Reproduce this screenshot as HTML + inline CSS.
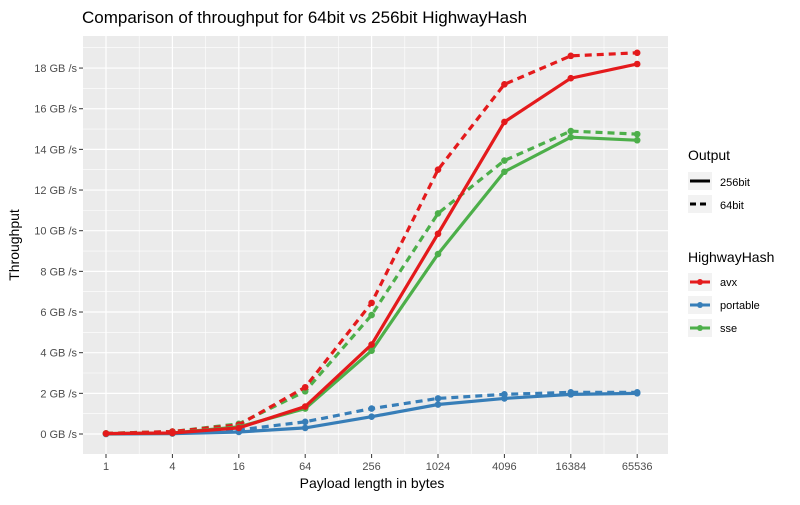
<!DOCTYPE html>
<html><head><meta charset="utf-8"><style>
body{margin:0;background:#fff;font-family:"Liberation Sans",sans-serif}
</style></head><body>
<svg id="chart" width="800" height="500" xmlns="http://www.w3.org/2000/svg" font-family="Liberation Sans, sans-serif">
<text x="82" y="23" font-size="17" fill="#000">Comparison of throughput for 64bit vs 256bit HighwayHash</text>
<rect x="83" y="36" width="585" height="418" fill="#ebebeb"/>
<g id="grid"></g><g id="axes"></g><g id="series"></g>
<text x="372" y="488" font-size="14" text-anchor="middle">Payload length in bytes</text>
<text transform="translate(19,245) rotate(-90)" font-size="14" text-anchor="middle">Throughput</text>
<g>
<text x="688" y="160" font-size="14">Output</text>
<rect x="688" y="172" width="24" height="18" fill="#f2f2f2"/>
<line x1="690" y1="181" x2="710" y2="181" stroke="#000" stroke-width="3"/>
<text x="720" y="186" font-size="11">256bit</text>
<rect x="688" y="195" width="24" height="18" fill="#f2f2f2"/>
<line x1="690" y1="204" x2="710" y2="204" stroke="#000" stroke-width="3" stroke-dasharray="6,4"/>
<text x="720" y="209" font-size="11">64bit</text>
</g>
<g>
<text x="688" y="262" font-size="14">HighwayHash</text>
<rect x="688" y="273" width="24" height="18" fill="#f2f2f2"/>
<line x1="690" y1="282" x2="710" y2="282" stroke="#e41a1c" stroke-width="3"/><circle cx="700" cy="282" r="3" fill="#e41a1c"/>
<text x="720" y="286" font-size="11">avx</text>
<rect x="688" y="296" width="24" height="18" fill="#f2f2f2"/>
<line x1="690" y1="305" x2="710" y2="305" stroke="#377eb8" stroke-width="3"/><circle cx="700" cy="305" r="3" fill="#377eb8"/>
<text x="720" y="309" font-size="11">portable</text>
<rect x="688" y="319" width="24" height="18" fill="#f2f2f2"/>
<line x1="690" y1="328" x2="710" y2="328" stroke="#4daf4a" stroke-width="3"/><circle cx="700" cy="328" r="3" fill="#4daf4a"/>
<text x="720" y="332" font-size="11">sse</text>
</g>
</svg>
<script>
const categories=["1","4","16","64","256","1024","4096","16384","65536"];
const yTicks=[0,2,4,6,8,10,12,14,16,18];
const avx256=[0.02,0.05,0.3,1.35,4.4,9.85,15.35,17.5,18.2];
const avx64=[0.03,0.12,0.45,2.3,6.45,13.0,17.2,18.6,18.75];
const sse256=[0.02,0.05,0.35,1.25,4.1,8.85,12.9,14.6,14.45];
const sse64=[0.03,0.12,0.5,2.1,5.85,10.85,13.45,14.9,14.75];
const portable256=[0,0.02,0.1,0.3,0.85,1.45,1.75,1.95,2.0];
const portable64=[0.01,0.05,0.2,0.6,1.25,1.75,1.95,2.05,2.05];
const NS="http://www.w3.org/2000/svg";
const x=i=>106+i*66.4;
const y=v=>434-v*20.33;
function mk(tag,attrs,parent){const e=document.createElementNS(NS,tag);for(const k in attrs)e.setAttribute(k,attrs[k]);parent.appendChild(e);return e;}
const grid=document.getElementById('grid'),axes=document.getElementById('axes'),ser=document.getElementById('series');
for(let v=-1;v<=19;v+=2){const l=mk('line',{x1:83,x2:668,y1:y(v),y2:y(v),stroke:'#fff','stroke-width':0.6},grid);

}
for(let i=0;i<categories.length-1;i++){const l=mk('line',{x1:x(i+0.5),x2:x(i+0.5),y1:36,y2:454,stroke:'#fff','stroke-width':0.6},grid);

}
yTicks.forEach(v=>{const l=mk('line',{x1:83,x2:668,y1:y(v),y2:y(v),stroke:'#fff','stroke-width':1.2},grid);


mk('line',{x1:79,x2:83,y1:y(v),y2:y(v),stroke:'#333'},axes);
const t=mk('text',{x:77,y:y(v)+4,'font-size':11,fill:'#4d4d4d','text-anchor':'end'},axes);t.textContent=v+' GB /s';

});
categories.forEach((c,i)=>{const l=mk('line',{x1:x(i),x2:x(i),y1:36,y2:454,stroke:'#fff','stroke-width':1.2},grid);


mk('line',{x1:x(i),x2:x(i),y1:454,y2:458,stroke:'#333'},axes);
const t=mk('text',{x:x(i),y:470,'font-size':11,fill:'#4d4d4d','text-anchor':'middle'},axes);t.textContent=c;

});
const list=[[portable64,'#377eb8',true,'portable-64bit'],[portable256,'#377eb8',false,'portable-256bit'],[sse64,'#4daf4a',true,'sse-64bit'],[avx64,'#e41a1c',true,'avx-64bit'],[sse256,'#4daf4a',false,'sse-256bit'],[avx256,'#e41a1c',false,'avx-256bit']];
list.forEach(([d,c,dash,name])=>{const p=mk('polyline',{points:d.map((v,i)=>x(i)+','+y(v)).join(' '),fill:'none',stroke:c,'stroke-width':3.2,'stroke-dasharray':dash?'7,5':'none'},ser);


d.forEach((v,i)=>{const pt=mk('circle',{cx:x(i),cy:y(v),r:3.3,fill:c},ser);

});});
</script>
</body></html>
